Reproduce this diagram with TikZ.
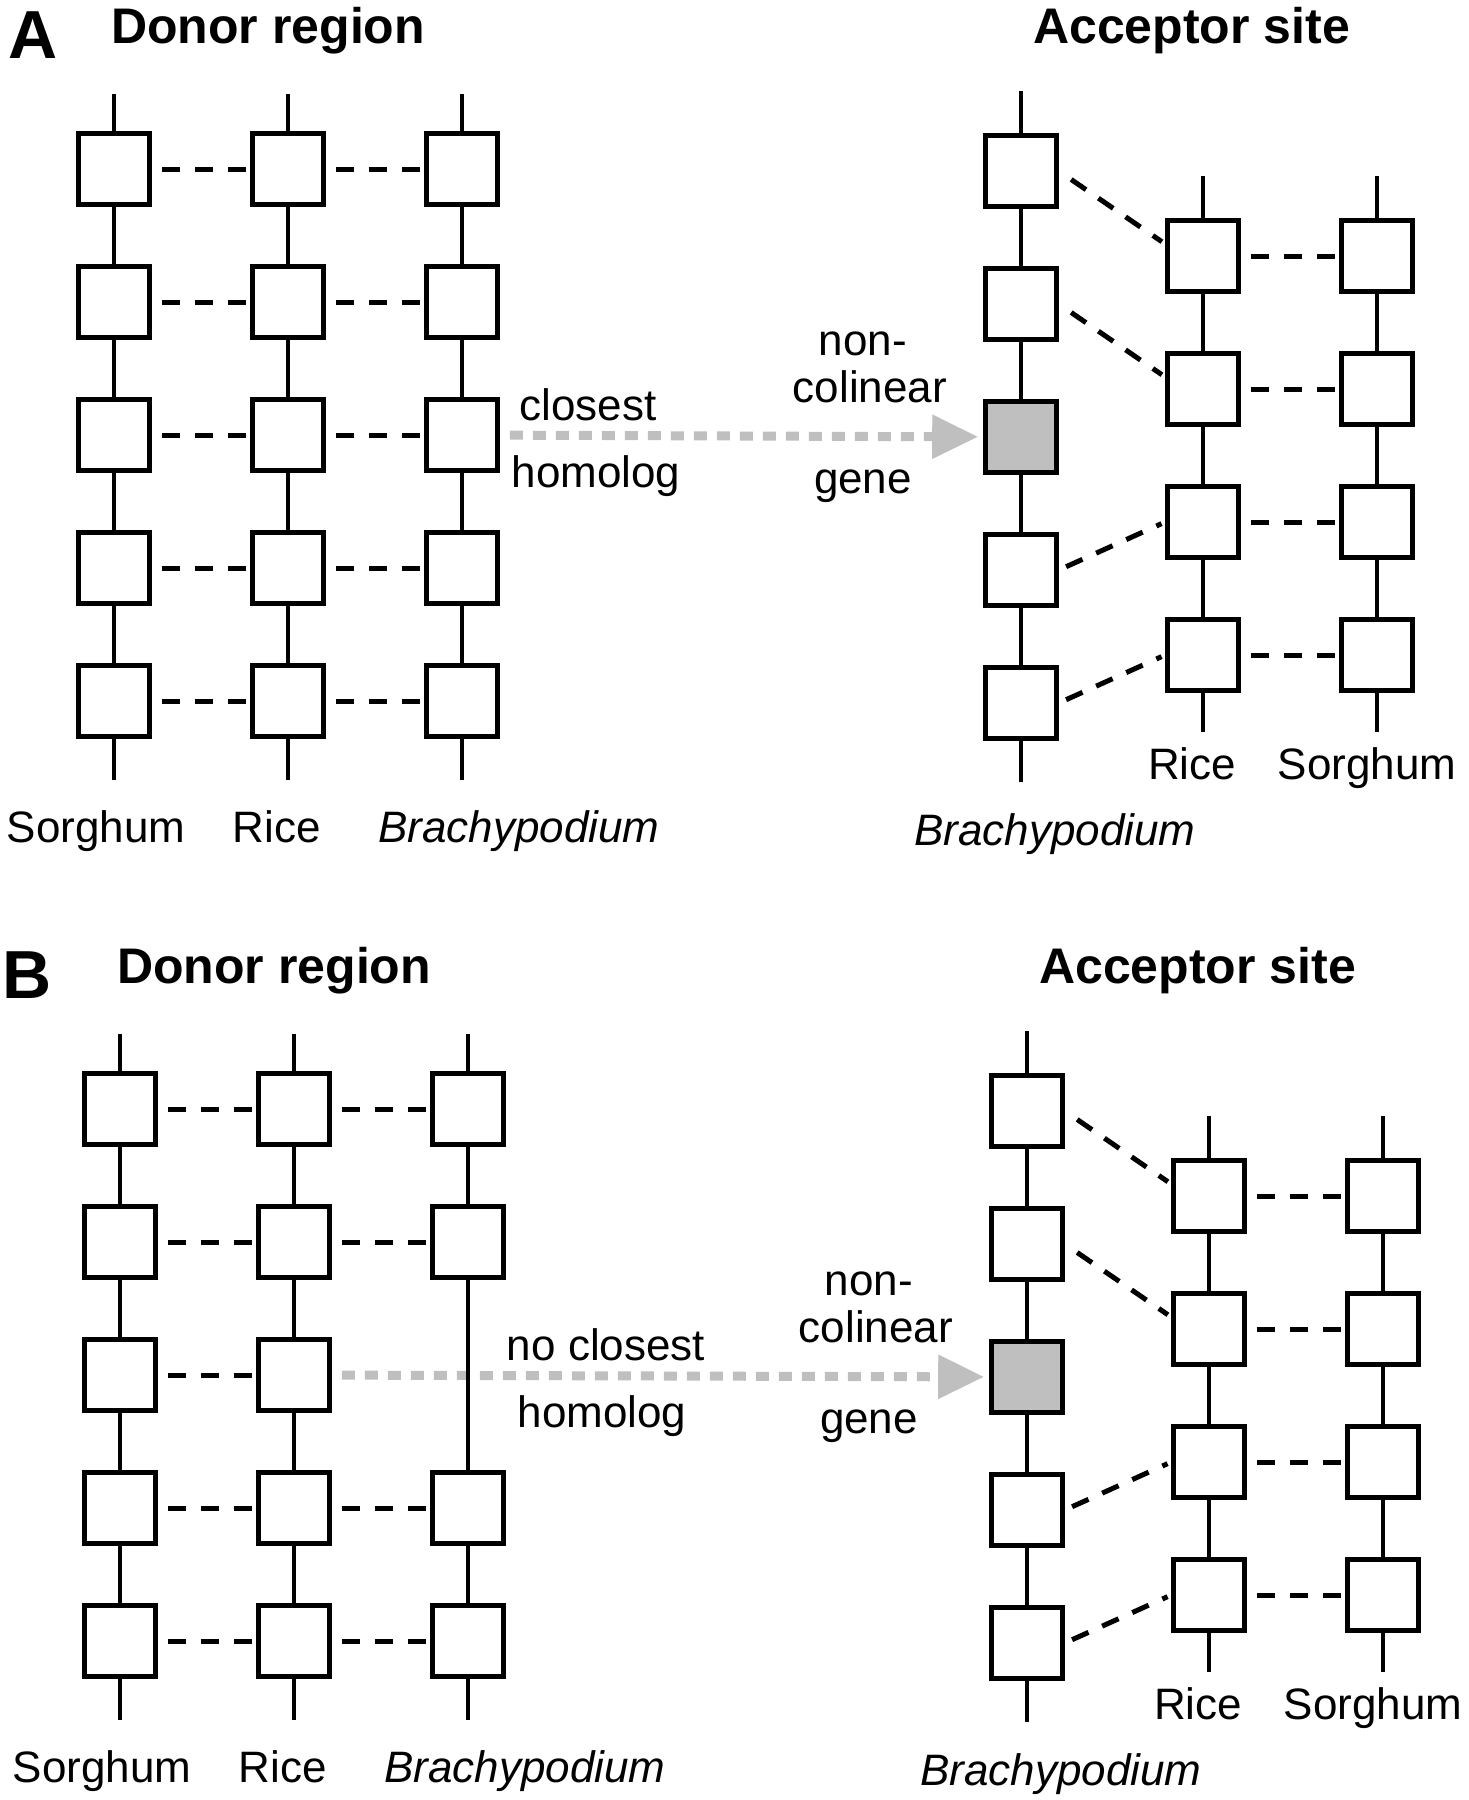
\documentclass[tikz,border=0pt]{standalone}
\usepackage{fontspec}
\setmainfont{Liberation Sans}
\usepackage{xcolor}
\usepackage{tikz}
\usetikzlibrary{arrows.meta,calc}
\definecolor{hitgray}{HTML}{BFBFBF}
\tikzset{every node/.append style={font=\rmfamily}}

\begin{document}
\begin{tikzpicture}[x=1pt,y=-1pt,
  genebox/.style={draw,line width=4.6pt,fill=white,minimum width=71pt,minimum height=71pt,inner sep=0pt,outer sep=2.3pt},
  hitbox/.style={genebox,fill=hitgray},
  strand/.style={line width=4.6pt},
  homline/.style={line width=5pt,dash pattern=on 18pt off 15pt,shorten <=10pt,shorten >=4pt},
  transfer/.style={hitgray,line width=9pt,dash pattern=on 13pt off 10pt,shorten <=10pt,shorten >=5pt,
    -{Triangle[length=46pt,width=42pt]}},
  spname/.style={inner sep=0pt,anchor=base,font=\fontsize{44}{50}\selectfont},
  ttl/.style={inner sep=0pt,anchor=base west,font=\bfseries\fontsize{50}{56}\selectfont},
  panel/.style={inner sep=0pt,anchor=base west,font=\bfseries\fontsize{68}{70}\selectfont}]
  \useasboundingbox (0,0) rectangle (1469,1800);

  % ---------------- Panel A ----------------
  \node[panel] (A-lab) at (8,58) {A};
  \node[ttl] (A-don) at (111,43) {Donor region};
  \node[ttl] (A-acc) at (1033,43) {Acceptor site};
  % donor region: closest homolog in Brachypodium
  \foreach \c/\x in {so/114,ri/288,br/462} {
    \coordinate (A-\c-top) at (\x,94);
    \coordinate (A-\c-bot) at (\x,780);
    \foreach \r in {1,...,5} \node[genebox] (A-\c-\r) at (\x,{36+133*\r}) {};
    \draw[strand] (A-\c-top) -- (A-\c-1) -- (A-\c-2) -- (A-\c-3) -- (A-\c-4) -- (A-\c-5) -- (A-\c-bot);
  }
  \foreach \r in {1,...,5} {
    \draw[homline] (A-so-\r) -- (A-ri-\r);
    \draw[homline] (A-ri-\r) -- (A-br-\r);
  }
  % acceptor site
  \coordinate (A-bd-top) at (1021,91);
  \coordinate (A-bd-bot) at (1021,782);
  \foreach \r in {1,2,4,5} \node[genebox] (A-bd-\r) at (1021,{38+133*\r}) {};
  \node[hitbox] (A-bd-3) at (1021,437) {};
  \draw[strand] (A-bd-top) -- (A-bd-1) -- (A-bd-2) -- (A-bd-3) -- (A-bd-4) -- (A-bd-5) -- (A-bd-bot);
  \foreach \c/\x in {rd/1203,sd/1377} {
    \coordinate (A-\c-top) at (\x,176);
    \coordinate (A-\c-bot) at (\x,732);
    \foreach \r in {1,...,4} \node[genebox] (A-\c-\r) at (\x,{123+133*\r}) {};
    \draw[strand] (A-\c-top) -- (A-\c-1) -- (A-\c-2) -- (A-\c-3) -- (A-\c-4) -- (A-\c-bot);
  }
  \foreach \r in {1,...,4} \draw[homline] (A-rd-\r) -- (A-sd-\r);
  \draw[homline,shorten <=15pt] (A-bd-1.east) -- ($(A-rd-1.west)+(0,-12)$);
  \draw[homline,shorten <=15pt] (A-bd-2.east) -- ($(A-rd-2.west)+(0,-12)$);
  \draw[homline,shorten <=8pt] (A-bd-4.east) -- (A-rd-3.west);
  \draw[homline,shorten <=8pt] (A-bd-5.east) -- (A-rd-4.west);
  \draw[transfer] (A-br-3) -- (A-bd-3);
  % labels
  \node[spname] (A-t1) at (588,420) {closest};
  \node[spname] (A-t2) at (596,487) {homolog};
  \node[spname] (A-t3) at (863,355) {non-};
  \node[spname] (A-t4) at (870,402) {colinear};
  \node[spname] (A-t5) at (863,493) {gene};
  \node[spname] (A-lso) at (96,842) {Sorghum};
  \node[spname] (A-lri) at (277,842) {Rice};
  \node[spname] (A-lbr) at (519,842) {\itshape Brachypodium};
  \node[spname] (A-lrd) at (1192,779) {Rice};
  \node[spname] (A-lsd) at (1367,779) {Sorghum};
  \node[spname] (A-lbd) at (1055,845) {\itshape Brachypodium};

  % ---------------- Panel B ----------------
  \begin{scope}[shift={(6,940)}]
  \node[panel] (B-lab) at (-4,58) {B};
  \node[ttl] (B-don) at (111,43) {Donor region};
  \node[ttl] (B-acc) at (1033,43) {Acceptor site};
  % donor region: Brachypodium gene lost
  \foreach \c/\x in {so/114,ri/288} {
    \coordinate (B-\c-top) at (\x,94);
    \coordinate (B-\c-bot) at (\x,780);
    \foreach \r in {1,...,5} \node[genebox] (B-\c-\r) at (\x,{36+133*\r}) {};
    \draw[strand] (B-\c-top) -- (B-\c-1) -- (B-\c-2) -- (B-\c-3) -- (B-\c-4) -- (B-\c-5) -- (B-\c-bot);
  }
  \coordinate (B-br-top) at (462,94);
  \coordinate (B-br-bot) at (462,780);
  \foreach \r in {1,2,4,5} \node[genebox] (B-br-\r) at (462,{36+133*\r}) {};
  \foreach \r in {1,...,5} \draw[homline] (B-so-\r) -- (B-ri-\r);
  \foreach \r in {1,2,4,5} \draw[homline] (B-ri-\r) -- (B-br-\r);
  % acceptor site
  \coordinate (B-bd-top) at (1021,91);
  \coordinate (B-bd-bot) at (1021,782);
  \foreach \r in {1,2,4,5} \node[genebox] (B-bd-\r) at (1021,{38+133*\r}) {};
  \node[hitbox] (B-bd-3) at (1021,437) {};
  \draw[strand] (B-bd-top) -- (B-bd-1) -- (B-bd-2) -- (B-bd-3) -- (B-bd-4) -- (B-bd-5) -- (B-bd-bot);
  \foreach \c/\x in {rd/1203,sd/1377} {
    \coordinate (B-\c-top) at (\x,176);
    \coordinate (B-\c-bot) at (\x,732);
    \foreach \r in {1,...,4} \node[genebox] (B-\c-\r) at (\x,{123+133*\r}) {};
    \draw[strand] (B-\c-top) -- (B-\c-1) -- (B-\c-2) -- (B-\c-3) -- (B-\c-4) -- (B-\c-bot);
  }
  \foreach \r in {1,...,4} \draw[homline] (B-rd-\r) -- (B-sd-\r);
  \draw[homline,shorten <=15pt] (B-bd-1.east) -- ($(B-rd-1.west)+(0,-12)$);
  \draw[homline,shorten <=15pt] (B-bd-2.east) -- ($(B-rd-2.west)+(0,-12)$);
  \draw[homline,shorten <=8pt] (B-bd-4.east) -- (B-rd-3.west);
  \draw[homline,shorten <=8pt] (B-bd-5.east) -- (B-rd-4.west);
  \draw[transfer] (B-ri-3) -- (B-bd-3);
  % the Brachypodium strand runs over the arrow
  \draw[strand] (B-br-top) -- (B-br-1) -- (B-br-2) -- (B-br-4) -- (B-br-5) -- (B-br-bot);
  % labels
  \node[spname] (B-t1) at (600,420) {no closest};
  \node[spname] (B-t2) at (596,487) {homolog};
  \node[spname] (B-t3) at (863,355) {non-};
  \node[spname] (B-t4) at (870,402) {colinear};
  \node[spname] (B-t5) at (863,493) {gene};
  \node[spname] (B-lso) at (96,842) {Sorghum};
  \node[spname] (B-lri) at (277,842) {Rice};
  \node[spname] (B-lbr) at (519,842) {\itshape Brachypodium};
  \node[spname] (B-lrd) at (1192,779) {Rice};
  \node[spname] (B-lsd) at (1367,779) {Sorghum};
  \node[spname] (B-lbd) at (1055,845) {\itshape Brachypodium};
  \end{scope}
\end{tikzpicture}
\end{document}
